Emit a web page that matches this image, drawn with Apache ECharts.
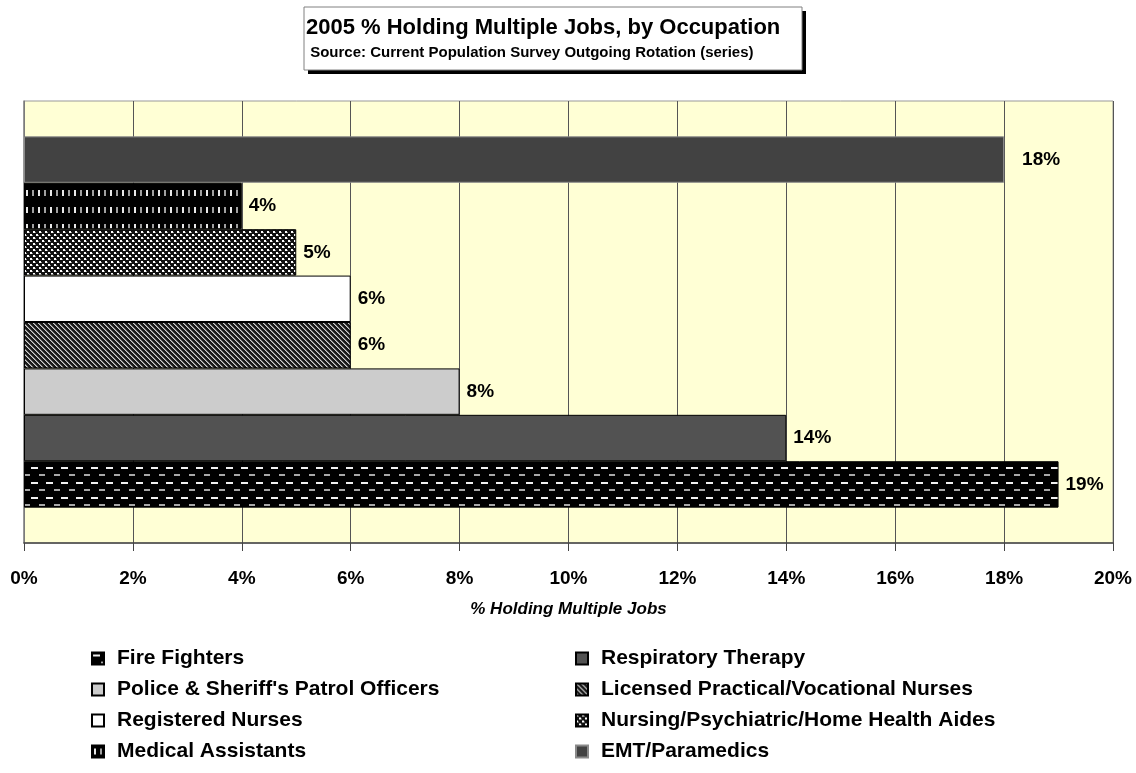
<!DOCTYPE html>
<html>
<head>
<meta charset="utf-8">
<script src="https://cdn.jsdelivr.net/npm/echarts@6/dist/echarts.min.js"></script>
<style>
  html, body { margin: 0; padding: 0; background: #fff; }
  #chart { width: 1136px; height: 773px; }
</style>
</head>
<body>
<div id="chart"></div>
<script>
// data
const titleText = "2005 % Holding Multiple Jobs, by Occupation";
const sourceText = " Source: Current Population Survey Outgoing Rotation (series)";
const axisTitle = "% Holding Multiple Jobs";
const occupations = [
  "Fire Fighters",
  "Respiratory Therapy",
  "Police & Sheriff's Patrol Officers",
  "Licensed Practical/Vocational Nurses",
  "Registered Nurses",
  "Nursing/Psychiatric/Home Health Aides",
  "Medical Assistants",
  "EMT/Paramedics"
];
const pctValues = [19, 14, 8, 6, 6, 5, 4, 18];
const xMin = 0, xMax = 20, xStep = 2;
const legendLeft = ["Fire Fighters", "Police & Sheriff's Patrol Officers", "Registered Nurses", "Medical Assistants"];
const legendRight = ["Respiratory Therapy", "Licensed Practical/Vocational Nurses", "Nursing/Psychiatric/Home Health Aides", "EMT/Paramedics"];

// small canvas tiles for the excel-like fill patterns
function tile(w, h, bg, draw) {
  const c = document.createElement("canvas");
  c.width = w; c.height = h;
  const ctx = c.getContext("2d");
  ctx.fillStyle = bg;
  ctx.fillRect(0, 0, w, h);
  draw(ctx);
  return { image: c, repeat: "repeat" };
}

const fills = {
  "Fire Fighters": tile(15, 15, "#000", (ctx) => {
    ctx.fillStyle = "#f0f0f0"; ctx.fillRect(1, 2, 7, 2);
    ctx.fillStyle = "#a8a8a8"; ctx.fillRect(9, 9, 6, 2);
  }),
  "Respiratory Therapy": "#525252",
  "Police & Sheriff's Patrol Officers": "#cccccc",
  "Licensed Practical/Vocational Nurses": tile(5, 5, "#1a1a1a", (ctx) => {
    for (let i = 0; i < 5; i++) {
      ctx.fillStyle = "#d0d0d0"; ctx.fillRect(i, i, 1, 1);
      ctx.fillStyle = "#777"; ctx.fillRect((i + 1) % 5, i, 1, 1);
    }
  }),
  "Registered Nurses": "#ffffff",
  "Nursing/Psychiatric/Home Health Aides": tile(6, 6, "#111", (ctx) => {
    ctx.fillStyle = "#fff"; ctx.fillRect(0, 0, 2, 2);
    ctx.fillStyle = "#fff"; ctx.fillRect(3, 3, 2, 2);
    ctx.fillStyle = "#888"; ctx.fillRect(2, 1, 1, 1);
    ctx.fillStyle = "#888"; ctx.fillRect(5, 4, 1, 1);
  }),
  "Medical Assistants": tile(12, 17, "#000", (ctx) => {
    ctx.fillStyle = "#e8e8e8"; ctx.fillRect(2, 3, 2, 6);
    ctx.fillStyle = "#a0a0a0"; ctx.fillRect(8, 3, 2, 6);
  }),
  "EMT/Paramedics": "#424242"
};

const font = "'Liberation Sans', Arial, sans-serif";

const chart = echarts.init(document.getElementById("chart"));

// echarts stacks a single-category group top-down, so feed the series reversed
const series = occupations.map((name, i) => ({
  name: name,
  type: "bar",
  data: [pctValues[i]],
  barGap: "0%",
  barCategoryGap: "16%",
  itemStyle: {
    color: fills[name],
    borderColor: name === "EMT/Paramedics" ? "#8a8a8a" : "#000",
    borderWidth: 1
  },
  label: {
    show: true,
    position: "right",
    distance: name === "EMT/Paramedics" ? 18 : 7,
    formatter: "{c}%",
    fontFamily: font,
    fontSize: 19,
    fontWeight: "bold",
    color: "#000"
  }
})).reverse();

const legendBase = {
  orient: "vertical",
  top: 648,
  padding: 0,
  itemWidth: 12,
  itemHeight: 12,
  itemGap: 10,
  icon: "rect",
  textStyle: { fontFamily: font, fontSize: 21, fontWeight: "bold", color: "#000", lineHeight: 21, padding: [0, 0, 0, 8] }
};

chart.setOption({
  animation: false,
  title: {
    text: titleText,
    subtext: sourceText,
    left: 306,
    top: 17,
    padding: 0,
    itemGap: 6,
    textStyle: { fontFamily: font, fontSize: 22, fontWeight: "bold", color: "#000" },
    subtextStyle: { fontFamily: font, fontSize: 15, fontWeight: "bold", color: "#000" }
  },
  graphic: [
    { type: "rect", z: -1, shape: { x: 308, y: 11, width: 498, height: 63 }, style: { fill: "#000" } },
    { type: "rect", z: -1, shape: { x: 304, y: 7, width: 498, height: 63 }, style: { fill: "#fff", stroke: "#808080", lineWidth: 1 } }
  ],
  legend: [
    Object.assign({}, legendBase, { left: 91, data: legendLeft }),
    Object.assign({}, legendBase, { left: 575, data: legendRight })
  ],
  grid: {
    left: 24,
    right: 23,
    top: 101,
    bottom: 230,
    show: true,
    backgroundColor: "#ffffd5",
    borderColor: "#999",
    borderWidth: 1
  },
  xAxis: {
    type: "value",
    min: xMin,
    max: xMax,
    interval: xStep,
    name: axisTitle,
    nameLocation: "middle",
    nameGap: 58,
    nameTextStyle: { fontFamily: font, fontSize: 17, fontWeight: "bold", fontStyle: "italic", color: "#000" },
    axisLine: { show: true, lineStyle: { color: "#444", width: 1.5 } },
    axisTick: { show: true, length: 8, lineStyle: { color: "#444" } },
    axisLabel: { margin: 26, formatter: "{value}%", fontFamily: font, fontSize: 19, fontWeight: "bold", color: "#000" },
    splitLine: { show: true, lineStyle: { color: "#555", width: 1 } }
  },
  yAxis: {
    type: "category",
    data: [""],
    axisLine: { show: true, lineStyle: { color: "#888", width: 1.5 } },
    axisTick: { show: false },
    axisLabel: { show: false }
  },
  series: series
});
</script>
</body>
</html>
